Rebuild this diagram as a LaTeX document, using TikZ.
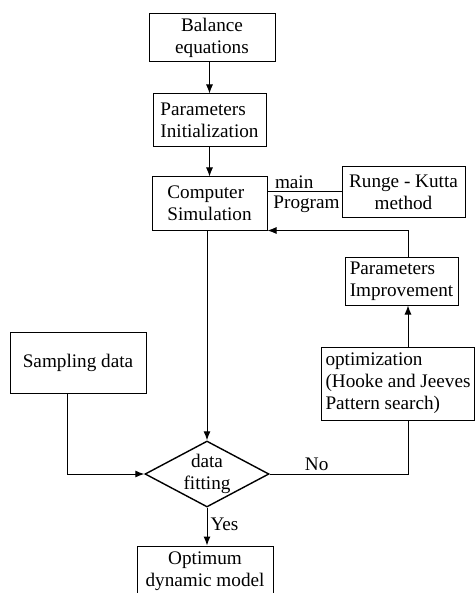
\documentclass[tikz,border=0pt]{standalone}
\usepackage{fontspec}
\setmainfont{Liberation Serif}
\usepackage{tikz}
\usetikzlibrary{shapes.geometric,arrows.meta}
\newcommand{\flowfont}{\fontsize{9.6}{11}\selectfont}
\tikzset{
  stepbox/.style ={rectangle, draw, line width=0.5pt, inner sep=2pt, align=center, font=\flowfont},
  leftbox/.style ={stepbox, align=left},
  decision/.style={diamond, draw, line width=0.7pt, aspect=1.9, inner sep=0pt, minimum width=62pt, minimum height=33pt, align=center, font=\flowfont},
  flow/.style    ={-{Latex[length=4.5pt,width=3.5pt]}, line width=0.5pt},
  link/.style    ={line width=0.5pt},
  lbl/.style     ={font=\flowfont, inner sep=1.5pt},
}
\begin{document}
\begin{tikzpicture}[x=0.5pt,y=-0.5pt]
\useasboundingbox (0,0) rectangle (475,593);
\clip (0,0) rectangle (475,593);
% --- main column ---
\node[stepbox, minimum width=63pt,   minimum height=24pt]   (balance) at (212,38)    {Balance\\equations};
\node[leftbox, minimum width=56.5pt, minimum height=26.5pt] (init)    at (209.5,120.5) {Parameters\\Initialization};
\node[leftbox, minimum width=57.5pt, minimum height=26.5pt] (sim)     at (209.5,203.5) {Computer\\Simulation};
\node[decision] (fit) at (207,474) {data\\fitting};
\node[stepbox, minimum width=68pt,   minimum height=25pt]   (result)  at (205,571)   {Optimum\\dynamic model};
% --- right column ---
\node[stepbox, minimum width=61.5pt, minimum height=25pt]   (rk)      at (403.5,192) {Runge - Kutta\\method};
\node[leftbox, minimum width=56.5pt, minimum height=24pt]   (improve) at (401.5,281) {Parameters\\Improvement};
\node[leftbox, minimum width=74pt,   minimum height=36.5pt] (optim)   at (398,383.5) {optimization\\(Hooke and Jeeves\\Pattern search)};
% --- left column ---
\node[stepbox, minimum width=68pt,   minimum height=30.5pt] (samp)    at (78,362.5)  {Sampling data};
\coordinate (fb) at (408,229);
% --- arrows ---
\draw[flow] (balance.south -| init.north) -- (init.north);
\draw[flow] (init) -- (sim);
\draw[link] (rk.west -| sim.east) -- node[lbl, pos=0, anchor=south west, xshift=2pt] {main} node[lbl, below, xshift=1pt] {Program} (rk.west);
\draw[flow] (sim.south -| fit.north) -- (fit.north);
\draw[flow] ([xshift=-5.5pt]samp.south) |- (fit.west);
\draw[link] (fit.east) -| node[lbl, pos=0.17, above] {No} (optim.south -| fb);
\draw[flow] (optim.north -| fb) -- (improve.south -| fb);
\draw[flow] (improve.north -| fb) |- (sim.south east);
\draw[flow] (fit.south) -- node[lbl, right, pos=0.45] {Yes} (fit.south |- result.north);
\end{tikzpicture}
\end{document}
